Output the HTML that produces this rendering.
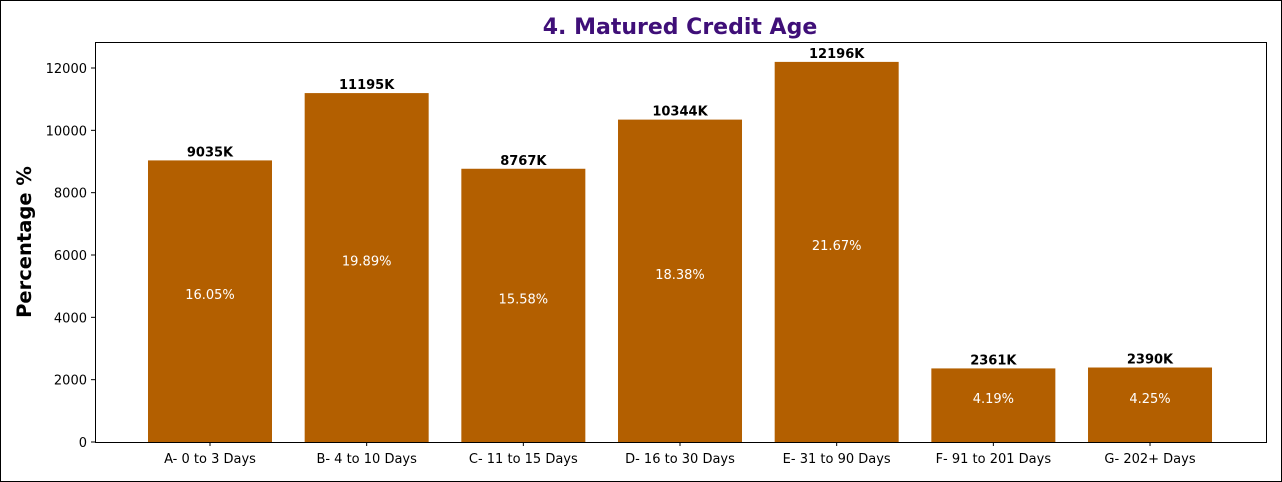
<!DOCTYPE html>
<html><head><meta charset="utf-8"><style>
html,body{margin:0;padding:0;background:#fff;}
svg{display:block;font-family:"DejaVu Sans","Liberation Sans",sans-serif;}
</style></head><body>
<svg id="chart" width="1282" height="482">
<rect x="0.5" y="0.5" width="1281" height="481" fill="#fff" stroke="#000"/>
<text x="680" y="34" text-anchor="middle" font-size="22" font-weight="bold" fill="#3f0f78">4. Matured Credit Age</text>
<text transform="translate(31,242) rotate(-90)" text-anchor="middle" font-size="19.5" font-weight="bold" fill="#000">Percentage %</text>
<g id="bars"></g>
<g id="yticks"></g>
<g id="xticks"></g>
<rect x="95.5" y="42.5" width="1171" height="400" fill="none" stroke="#000"/>
</svg>
<script>
const categories = ["A- 0 to 3 Days","B- 4 to 10 Days","C- 11 to 15 Days","D- 16 to 30 Days","E- 31 to 90 Days","F- 91 to 201 Days","G- 202+ Days"];
const values = [9035,11195,8767,10344,12196,2361,2390];
const valueLabels = ["9035K","11195K","8767K","10344K","12196K","2361K","2390K"];
const percentLabels = ["16.05%","19.89%","15.58%","18.38%","21.67%","4.19%","4.25%"];
const yTicks = [0,2000,4000,6000,8000,10000,12000];

const NS="http://www.w3.org/2000/svg";
const y0=442, pxPerUnit=374/12000;
function yScale(v){return y0-v*pxPerUnit;}
function xScale(i){return 210+i*156.67;}
const bw=124;
function mk(tag,attrs,parent,txt){const e=document.createElementNS(NS,tag);for(const k in attrs)e.setAttribute(k,attrs[k]);if(txt!==undefined)e.textContent=txt;parent.appendChild(e);return e;}
const bars=document.getElementById('bars'), yt=document.getElementById('yticks'), xt=document.getElementById('xticks');
values.forEach((v,i)=>{
  const cx=xScale(i), top=yScale(v);
  const r=mk('rect',{x:cx-bw/2,y:top,width:bw,height:y0-top,fill:'#b35f00'},bars);
  
  
  const t=mk('text',{x:cx,y:top-4,'text-anchor':'middle','font-size':13,'font-weight':'bold',fill:'#000'},bars,valueLabels[i]);
  
  
  const p=mk('text',{x:cx,y:(top+y0)/2-2,'text-anchor':'middle','font-size':13,fill:'#fff'},bars,percentLabels[i]);
  
  
  mk('line',{x1:cx,x2:cx,y1:442,y2:446,stroke:'#000'},xt);
  const xl=mk('text',{x:cx,y:463,'text-anchor':'middle','font-size':13,fill:'#000'},xt,categories[i]);
  
  
});
yTicks.forEach(v=>{
  const y=yScale(v);
  mk('line',{x1:91,x2:95,y1:y,y2:y,stroke:'#000'},yt);
  const l=mk('text',{x:87,y:y+5,'text-anchor':'end','font-size':13,fill:'#000'},yt,String(v));
  
  
});
</script>
</body></html>
